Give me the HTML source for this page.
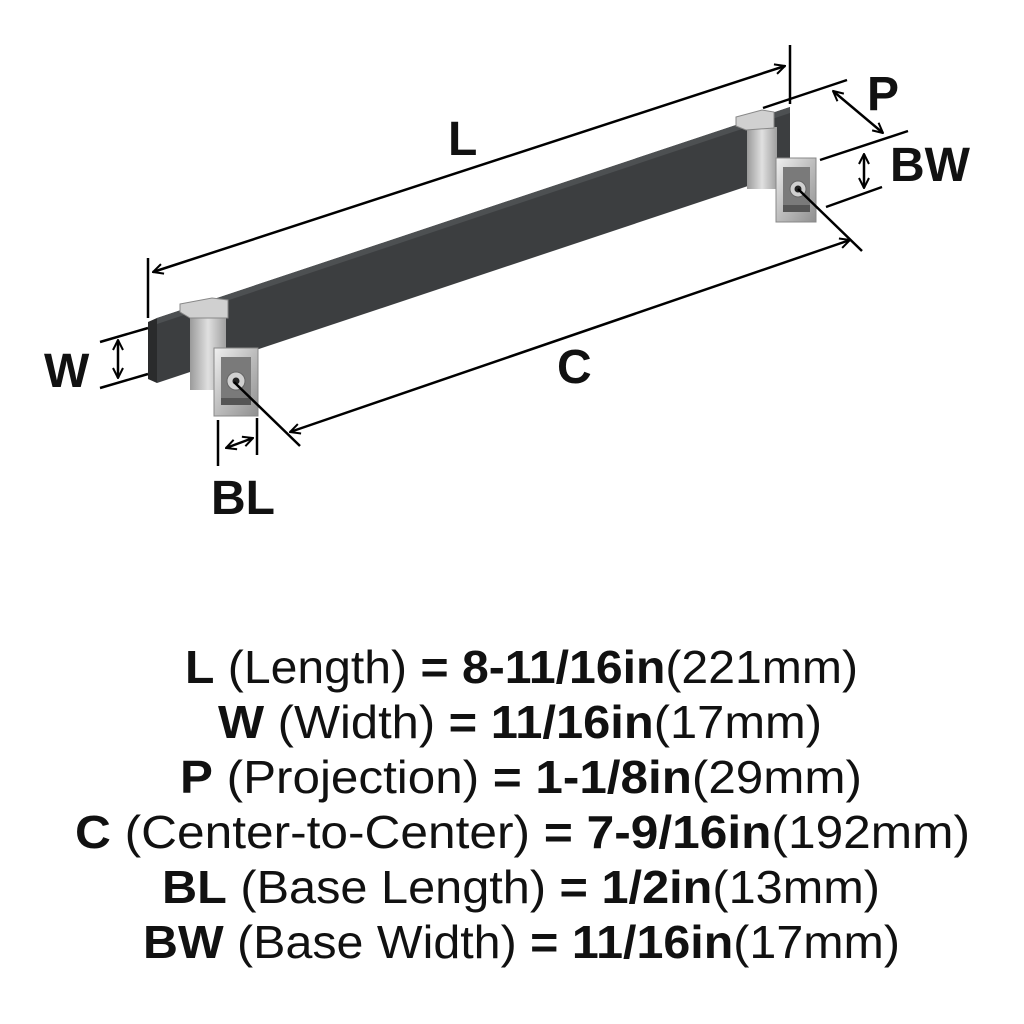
<!DOCTYPE html>
<html><head><meta charset="utf-8"><style>html,body{margin:0;padding:0;background:#fff}svg{display:block}</style></head>
<body>
<svg width="1024" height="1024" viewBox="0 0 1024 1024" xmlns="http://www.w3.org/2000/svg" font-family="Liberation Sans, sans-serif">
<defs>
<marker id="a" viewBox="0 0 12 12" refX="11" refY="6" markerWidth="12" markerHeight="12" markerUnits="userSpaceOnUse" orient="auto-start-reverse"><path d="M1,1 L11,6 L1,11" fill="none" stroke="#000" stroke-width="2"/></marker>
<linearGradient id="m" x1="0" y1="0" x2="1" y2="1"><stop offset="0" stop-color="#f0f0f0"/><stop offset="0.5" stop-color="#bdbdbd"/><stop offset="1" stop-color="#909090"/></linearGradient>
<linearGradient id="m2" x1="0" y1="0" x2="1" y2="0"><stop offset="0" stop-color="#9a9a9a"/><stop offset="0.5" stop-color="#e0e0e0"/><stop offset="1" stop-color="#a0a0a0"/></linearGradient>
</defs>
<!-- bar -->
<polygon points="157,318 790,107 790,172 157,383" fill="#3c3e40"/>
<polygon points="157,318 790,107 790,113 157,324" fill="#4d5052"/>
<polygon points="148,322 157,318 157,383 148,379" fill="#2a2b2c"/>
<!-- left bracket -->
<g>
<rect x="190" y="318" width="36" height="72" fill="url(#m2)"/>
<polygon points="180,304 212,298 228,300 228,318 190,318 180,312" fill="#d0d0d0" stroke="#888"/>
<rect x="214" y="348" width="44" height="68" fill="url(#m)" stroke="#888"/>
<rect x="221" y="357" width="30" height="48" fill="#7a7a7a"/>
<rect x="221" y="398" width="30" height="7" fill="#555"/>
<circle cx="236" cy="381" r="9" fill="#d0d0d0" stroke="#666"/>
<circle cx="236" cy="381" r="3.5" fill="#222"/>
</g>
<!-- right bracket -->
<g>
<rect x="747" y="127" width="30" height="62" fill="url(#m2)"/>
<polygon points="736,117 762,110 774,112 774,128 746,130 736,126" fill="#d0d0d0" stroke="#888"/>
<rect x="776" y="158" width="40" height="64" fill="url(#m)" stroke="#888"/>
<rect x="783" y="167" width="27" height="45" fill="#7a7a7a"/>
<rect x="783" y="205" width="27" height="7" fill="#555"/>
<circle cx="798" cy="189" r="8" fill="#d0d0d0" stroke="#666"/>
<circle cx="798" cy="189" r="3.5" fill="#222"/>
</g>
<g stroke="#000" stroke-width="2.5" fill="none">
<line x1="148" y1="258" x2="148" y2="318"/>
<line x1="790" y1="45" x2="790" y2="104"/>
<line x1="153" y1="272" x2="785" y2="66" marker-start="url(#a)" marker-end="url(#a)"/>
<line x1="234" y1="382" x2="300" y2="446"/>
<line x1="798" y1="189" x2="862" y2="251"/>
<line x1="290" y1="432" x2="850" y2="240" marker-start="url(#a)" marker-end="url(#a)"/>
<line x1="100" y1="342" x2="148" y2="328"/>
<line x1="100" y1="388" x2="148" y2="374"/>
<line x1="118" y1="340" x2="118" y2="378" marker-start="url(#a)" marker-end="url(#a)"/>
<line x1="218" y1="420" x2="218" y2="466"/>
<line x1="257" y1="418" x2="257" y2="455"/>
<line x1="226" y1="448" x2="253" y2="438" marker-start="url(#a)" marker-end="url(#a)"/>
<line x1="763" y1="108" x2="847" y2="80"/>
<line x1="820" y1="160" x2="908" y2="131"/>
<line x1="833" y1="91" x2="883" y2="133" marker-start="url(#a)" marker-end="url(#a)"/>
<line x1="826" y1="207" x2="882" y2="187"/>
<line x1="864" y1="154" x2="864" y2="188" marker-start="url(#a)" marker-end="url(#a)"/>
</g>
<g font-weight="bold" font-size="48" fill="#111">
<text x="448" y="155">L</text>
<text x="557" y="383">C</text>
<text x="44" y="387">W</text>
<text x="211" y="514">BL</text>
<text x="867" y="110">P</text>
<text x="890" y="181">BW</text>
</g>
<g font-size="46" fill="#111">
<text x="185" y="683" textLength="673" lengthAdjust="spacingAndGlyphs"><tspan font-weight="bold">L</tspan> (Length) <tspan font-weight="bold">= 8-11/16in</tspan>(221mm)</text>
<text x="218" y="738" textLength="604" lengthAdjust="spacingAndGlyphs"><tspan font-weight="bold">W</tspan> (Width) <tspan font-weight="bold">= 11/16in</tspan>(17mm)</text>
<text x="180" y="793" textLength="682" lengthAdjust="spacingAndGlyphs"><tspan font-weight="bold">P</tspan> (Projection) <tspan font-weight="bold">= 1-1/8in</tspan>(29mm)</text>
<text x="75" y="848" textLength="895" lengthAdjust="spacingAndGlyphs"><tspan font-weight="bold">C</tspan> (Center-to-Center) <tspan font-weight="bold">= 7-9/16in</tspan>(192mm)</text>
<text x="162" y="903" textLength="718" lengthAdjust="spacingAndGlyphs"><tspan font-weight="bold">BL</tspan> (Base Length) <tspan font-weight="bold">= 1/2in</tspan>(13mm)</text>
<text x="143" y="958" textLength="757" lengthAdjust="spacingAndGlyphs"><tspan font-weight="bold">BW</tspan> (Base Width) <tspan font-weight="bold">= 11/16in</tspan>(17mm)</text>
</g>
</svg>
</body></html>
